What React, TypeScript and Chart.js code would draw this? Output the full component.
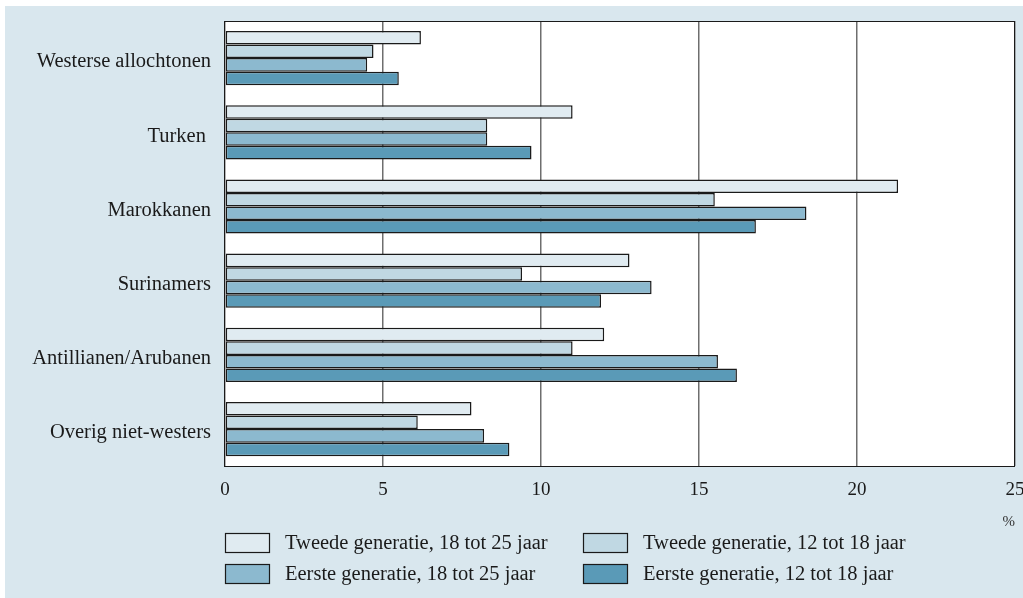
import React, { useEffect, useRef } from "react";
import { Chart, registerables } from "chart.js";

Chart.register(...registerables);

const categories = [
  "Westerse allochtonen",
  "Turken ",
  "Marokkanen",
  "Surinamers",
  "Antillianen/Arubanen",
  "Overig niet-westers",
];
const seriesLabels = [
  "Tweede generatie, 18 tot 25 jaar",
  "Tweede generatie, 12 tot 18 jaar",
  "Eerste generatie, 18 tot 25 jaar",
  "Eerste generatie, 12 tot 18 jaar",
];
const tweede18tot25 = [6.2, 11.0, 21.3, 12.8, 12.0, 7.8];
const tweede12tot18 = [4.7, 8.3, 15.5, 9.4, 11.0, 6.1];
const eerste18tot25 = [4.5, 8.3, 18.4, 13.5, 15.6, 8.2];
const eerste12tot18 = [5.5, 9.7, 16.8, 11.9, 16.2, 9.0];
const xTicks = [0, 5, 10, 15, 20, 25];
const unitLabel = "%";

const colors = ["#e0ebf1", "#c0d8e3", "#8cb9cf", "#5a9ab7"];
const FONT = "'Liberation Serif', 'Times New Roman', serif";
const TEXT = "#1a1a1a";

const frame = {
  id: "frame",
  beforeDraw(chart: any) {
    const { ctx, chartArea: a } = chart;
    ctx.save();
    ctx.fillStyle = "#ffffff";
    ctx.fillRect(a.left, a.top, a.right - a.left, a.bottom - a.top);
    ctx.restore();
  },
  afterDraw(chart: any) {
    const { ctx, chartArea: a } = chart;
    ctx.save();
    ctx.strokeStyle = "#1a1a1a";
    ctx.lineWidth = 1;
    ctx.strokeRect(Math.round(a.left) - 0.5, Math.round(a.top) + 0.5, Math.round(a.right - a.left), Math.round(a.bottom - a.top));
    // legend, 2 x 2
    const ds = chart.data.datasets;
    ctx.font = `20.5px ${FONT}`;
    ctx.textBaseline = "middle";
    ctx.textAlign = "left";
    ds.forEach((d: any, i: number) => {
      const col = i % 2;
      const row = Math.floor(i / 2);
      const x = a.left + col * 358;
      const y = Math.round(a.bottom) + 67 + row * 31;
      ctx.fillStyle = d.backgroundColor;
      ctx.fillRect(x + 0.5, y + 0.5, 44, 19);
      ctx.strokeStyle = "#1a1a1a";
      ctx.lineWidth = 1.2;
      ctx.strokeRect(x + 0.5, y + 0.5, 44, 19);
      ctx.fillStyle = TEXT;
      ctx.fillText(d.label, x + 60, y + 11);
    });
    ctx.restore();
  },
};

export default function App() {
  const ref = useRef<HTMLCanvasElement | null>(null);
  useEffect(() => {
    if (!ref.current) return;
    const seriesData = [tweede18tot25, tweede12tot18, eerste18tot25, eerste12tot18];
    const chart = new Chart(ref.current, {
      type: "bar",
      data: {
        labels: categories,
        datasets: seriesData.map((d, i) => ({
          label: seriesLabels[i],
          data: d,
          backgroundColor: colors[i],
          borderColor: "#1a1a1a",
          borderWidth: 1.5,
          borderSkipped: false,
          barPercentage: 1,
          categoryPercentage: 0.73,
        })),
      },
      options: {
        indexAxis: "y",
        animation: false,
        responsive: false,
        layout: { padding: { top: 15, right: 8, bottom: 67, left: 0 } },
        plugins: { legend: { display: false }, tooltip: { enabled: false } },
        scales: {
          x: {
            min: 0,
            max: 25,
            afterBuildTicks: (s: any) => {
              s.ticks = xTicks.map((v) => ({ value: v }));
            },
            afterFit: (s: any) => {
              s.paddingLeft = 0;
              s.paddingRight = 0;
            },
            grid: { color: "#6e6e6e", lineWidth: 1.5, drawTicks: false },
            border: { display: false },
            ticks: { padding: 12, color: TEXT, font: { family: FONT, size: 19 } },
            title: {
              display: true,
              text: unitLabel,
              align: "end",
              color: "#333",
              font: { family: FONT, size: 15 },
              padding: { top: 0, bottom: 0 },
            },
          },
          y: {
            afterFit: (s: any) => {
              s.width = 220;
              s.paddingTop = 0;
              s.paddingBottom = 0;
            },
            grid: { display: false, drawTicks: false },
            border: { display: false },
            ticks: { padding: 14, labelOffset: 4, color: TEXT, font: { family: FONT, size: 20.5 } },
          },
        },
      },
      plugins: [frame],
    } as any);
    return () => chart.destroy();
  }, []);
  return (
    <div style={{ position: "fixed", left: 0, top: 0, width: 1023, height: 598, background: "#ffffff" }}>
      <div style={{ position: "absolute", left: 5, top: 6, width: 1018, height: 592, background: "#d9e7ee" }}>
        <canvas ref={ref} width={1018} height={592} style={{ display: "block" }} />
      </div>
    </div>
  );
}
